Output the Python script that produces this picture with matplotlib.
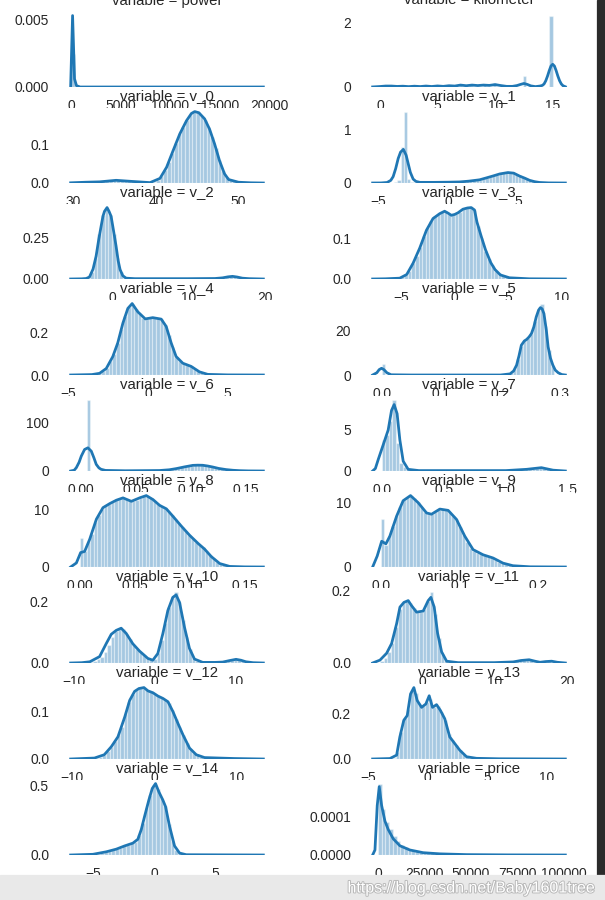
import matplotlib
matplotlib.use("Agg")
import matplotlib.pyplot as plt
import matplotlib.patheffects as pe
from matplotlib.patches import Rectangle

plt.rcParams["font.family"] = ["Liberation Sans", "DejaVu Sans"]

# ---- data ----------------------------------------------------------------
# every panel: kde curve (x, density) and histogram (first edge, bin width, densities)

power_kde_x = [-51, 145, 341, 537, 900, 19363]
power_kde_y = [0.0, 0.0053, 0.0006, 0.0001, 0.0, 0.0]
power_hist_start, power_hist_width = 0, 386
power_hist = [0.00245, 0.00012, 0.00002]

kilometer_kde_x = [-0.63, 0.0, 0.5, 1.0, 1.5, 2.0, 2.5, 3.0, 3.5, 4.0, 4.5, 5.0, 5.5, 6.0, 6.5,
                   7.0, 7.5, 8.0, 8.5, 9.0, 9.5, 10.0, 10.5, 11.0, 11.5, 11.9, 12.2, 12.5, 12.8,
                   13.1, 13.5, 13.9, 14.1, 14.25, 14.4, 14.55, 14.7, 14.85, 15.0, 15.15, 15.3,
                   15.45, 15.6, 15.75, 15.9, 16.1]
kilometer_kde_y = [0.002, 0.015, 0.03, 0.03, 0.018, 0.025, 0.012, 0.025, 0.014, 0.03, 0.016,
                   0.033, 0.02, 0.04, 0.03, 0.06, 0.04, 0.06, 0.045, 0.06, 0.05, 0.075, 0.045,
                   0.02, 0.02, 0.045, 0.08, 0.11, 0.08, 0.035, 0.012, 0.03, 0.05, 0.094, 0.195,
                   0.34, 0.51, 0.655, 0.71, 0.655, 0.51, 0.34, 0.195, 0.094, 0.038, 0.008]
kilometer_hist_start, kilometer_hist_width = 0.5, 0.29
kilometer_hist = [0.04, 0.03, 0, 0, 0, 0.03, 0, 0, 0.03, 0, 0, 0, 0.04, 0, 0, 0.05, 0, 0,
                  0.05, 0, 0, 0, 0.09, 0, 0, 0.09, 0, 0, 0, 0.09, 0, 0, 0.12, 0, 0, 0, 0, 0,
                  0, 0, 0, 0.34, 0, 0, 0, 0, 0, 0, 0, 2.23]

v0_kde_x = [29.7, 31.5, 33.2, 35.2, 37.2, 39.3, 40.5, 41.3, 42.1, 42.9, 43.7, 44.3, 44.7, 45.2,
            45.9, 46.5, 47.1, 47.7, 48.3, 48.8, 50.0, 51.5, 53.0]
v0_kde_y = [0.0005, 0.002, 0.003, 0.007, 0.004, 0.001, 0.012, 0.041, 0.085, 0.128, 0.162, 0.181,
            0.186, 0.183, 0.167, 0.14, 0.102, 0.058, 0.024, 0.009, 0.002, 0.0005, 0.0]
v0_hist_start, v0_hist_width = 30.4, 0.438
v0_hist = [0.001, 0.001, 0.002, 0.002, 0.002, 0.003, 0.003, 0.004, 0.005, 0.006, 0.007, 0.007,
           0.006, 0.005, 0.004, 0.004, 0.003, 0.002, 0.001, 0.001, 0.001, 0.003, 0.008, 0.017,
           0.034, 0.054, 0.078, 0.104, 0.127, 0.146, 0.164, 0.178, 0.185, 0.185, 0.175, 0.165,
           0.146, 0.121, 0.092, 0.059, 0.031, 0.015, 0.007, 0.004, 0.002, 0.001, 0.001, 0.0005,
           0.0003, 0.0002]

v1_kde_x = [-5.4, -4.8, -4.36, -4.1, -3.93, -3.75, -3.57, -3.4, -3.2, -3.0, -2.86, -2.7, -2.5,
            -2.3, -2.02, -1.0, 0.0, 0.83, 1.5, 2.26, 2.8, 3.2, 3.7, 4.29, 4.7, 5.12, 5.5, 5.84,
            6.2, 6.55, 7.2, 8.4]
v1_kde_y = [0.0, 0.001, 0.01, 0.05, 0.12, 0.27, 0.46, 0.58, 0.63, 0.52, 0.37, 0.2, 0.074, 0.03,
            0.012, 0.012, 0.015, 0.02, 0.035, 0.06, 0.1, 0.13, 0.17, 0.196, 0.185, 0.13, 0.09,
            0.05, 0.025, 0.01, 0.002, 0.0]
v1_hist_start, v1_hist_width = -4.34, 0.234
v1_hist = [0.0, 0.0, 0.01, 0.06, 0.68, 1.34, 0.07, 0.02, 0.0, 0.01, 0.01, 0.01, 0.01, 0.015,
           0.015, 0.015, 0.015, 0.02, 0.02, 0.02, 0.02, 0.025, 0.03, 0.035, 0.04, 0.045, 0.05,
           0.055, 0.065, 0.08, 0.095, 0.115, 0.135, 0.15, 0.165, 0.18, 0.19, 0.195, 0.19,
           0.175, 0.15, 0.12, 0.09, 0.06, 0.035, 0.02, 0.01, 0.005, 0.002, 0.001]

v2_kde_x = [-5.44, -4.0, -3.4, -2.97, -2.5, -2.1, -1.75, -1.44, -1.2, -1.0, -0.66, -0.4, -0.13,
            0.2, 0.52, 0.8, 1.05, 1.4, 1.84, 3.0, 6.0, 10.0, 13.5, 14.5, 15.2, 15.8, 16.4,
            17.1, 18.0, 19.85]
v2_kde_y = [0.0, 0.001, 0.003, 0.012, 0.06, 0.138, 0.24, 0.32, 0.38, 0.41, 0.433, 0.41, 0.38,
            0.29, 0.2, 0.11, 0.057, 0.02, 0.005, 0.002, 0.002, 0.002, 0.003, 0.007, 0.013,
            0.016, 0.012, 0.005, 0.002, 0.0]
v2_hist_start, v2_hist_width = -4.8, 0.48
v2_hist = [0.0, 0.0, 0.001, 0.008, 0.04, 0.13, 0.27, 0.39, 0.43, 0.39, 0.27, 0.13, 0.045, 0.01,
           0.003, 0.002, 0.002, 0.002, 0.002, 0.002, 0.002, 0.002, 0.002, 0.002, 0.002, 0.002,
           0.002, 0.002, 0.002, 0.002, 0.002, 0.002, 0.002, 0.002, 0.002, 0.002, 0.002, 0.002,
           0.003, 0.004, 0.007, 0.012, 0.016, 0.015, 0.01, 0.005, 0.002, 0.001, 0.001, 0.001]

v3_kde_x = [-7.7, -6.5, -5.16, -4.5, -3.9, -3.28, -2.65, -2.03, -1.4, -0.94, -0.6, -0.31, 0.0,
            0.31, 0.78, 1.2, 1.56, 1.87, 2.1, 2.5, 2.9, 3.4, 3.8, 4.3, 5.15, 7.0, 10.4]
v3_kde_y = [0.0, 0.0005, 0.002, 0.011, 0.039, 0.076, 0.12, 0.149, 0.161, 0.167, 0.162, 0.157,
            0.159, 0.163, 0.172, 0.175, 0.176, 0.17, 0.14, 0.105, 0.072, 0.04, 0.023, 0.01,
            0.003, 0.0005, 0.0]
v3_hist_start, v3_hist_width = -7.1, 0.338
v3_hist = [0.0, 0.0, 0.0, 0.001, 0.001, 0.002, 0.004, 0.009, 0.02, 0.04, 0.057, 0.08, 0.105,
           0.125, 0.142, 0.155, 0.16, 0.165, 0.167, 0.16, 0.157, 0.16, 0.166, 0.172, 0.175,
           0.176, 0.17, 0.13, 0.1, 0.07, 0.05, 0.034, 0.02, 0.014, 0.009, 0.005, 0.003, 0.002,
           0.001, 0.001]

v4_kde_x = [-4.83, -3.5, -3.02, -2.6, -2.19, -1.88, -1.56, -1.25, -0.98, -0.63, -0.16, 0.31,
            0.84, 1.15, 1.46, 1.77, 2.19, 2.71, 3.23, 3.75, 5.0, 7.23]
v4_kde_y = [0.0, 0.002, 0.008, 0.031, 0.088, 0.153, 0.247, 0.317, 0.34, 0.301, 0.267, 0.273,
            0.266, 0.231, 0.153, 0.088, 0.056, 0.041, 0.015, 0.003, 0.0005, 0.0]
v4_hist_start, v4_hist_width = -4.5, 0.228
v4_hist = [0.0, 0.0, 0.0, 0.001, 0.002, 0.004, 0.008, 0.018, 0.034, 0.065, 0.1, 0.153, 0.22,
           0.28, 0.325, 0.34, 0.315, 0.29, 0.272, 0.266, 0.27, 0.273, 0.27, 0.265, 0.24, 0.19,
           0.135, 0.088, 0.068, 0.055, 0.048, 0.041, 0.03, 0.018, 0.01, 0.005, 0.003, 0.002,
           0.001, 0.001]

v5_kde_x = [-0.015, -0.008, -0.004, 0.0, 0.004, 0.009, 0.016, 0.05, 0.2, 0.216, 0.222, 0.227,
            0.231, 0.235, 0.24, 0.244, 0.248, 0.252, 0.256, 0.26, 0.264, 0.267, 0.27, 0.273,
            0.277, 0.28, 0.284, 0.288, 0.292, 0.297, 0.303, 0.309]
v5_kde_y = [0.0, 1.0, 2.4, 3.0, 2.4, 1.0, 0.1, 0.0, 0.0, 0.5, 1.8, 4.4, 8.5, 13.3, 15.2, 15.9,
            17.0, 18.5, 21.5, 25.9, 29.0, 30.1, 29.5, 27.4, 20.0, 12.6, 7.5, 4.4, 2.2, 1.0, 0.2,
            0.0]
v5_hist_start, v5_hist_width = 0.0, 0.0058
v5_hist = [4.9, 0, 0, 0, 0, 0, 0, 0, 0, 0, 0, 0, 0, 0, 0, 0, 0, 0, 0, 0, 0, 0, 0, 0, 0, 0, 0,
           0, 0, 0, 0, 0, 0, 0, 0, 0, 0, 0.8, 2.5, 7.0, 13.0, 15.5, 16.5, 18.5, 24.0, 29.0,
           31.9, 22.0, 11.0, 4.0]

v6_kde_x = [-0.0097, -0.0065, -0.0045, -0.002, 0.0, 0.003, 0.006, 0.0091, 0.0115, 0.0136,
            0.016, 0.018, 0.022, 0.04, 0.06, 0.0712, 0.08, 0.0864, 0.094, 0.1015, 0.106,
            0.1105, 0.115, 0.1196, 0.125, 0.1318, 0.138, 0.144, 0.152, 0.1657]
v6_kde_y = [0.0, 1.5, 6.9, 18.0, 30.6, 44.3, 47.7, 40.8, 27.0, 13.7, 6.5, 3.5, 1.2, 0.5, 0.8,
            1.0, 2.5, 4.9, 8.5, 11.6, 12.0, 11.8, 10.3, 8.2, 5.3, 2.9, 1.5, 0.7, 0.2, 0.0]
v6_hist_start, v6_hist_width = 0.002, 0.00304
v6_hist = [0.5, 147.0, 0.5, 0.2, 0.1, 0.1, 0.1, 0.1, 0.1, 0.1, 0.1, 0.15, 0.15, 0.15, 0.2, 0.2,
           0.2, 0.25, 0.3, 0.3, 0.4, 0.6, 0.9, 1.3, 1.9, 2.6, 3.5, 4.6, 6.0, 7.5, 9.0, 10.4,
           11.3, 11.8, 11.9, 11.8, 11.2, 10.0, 8.5, 7.0, 5.4, 4.0, 3.0, 2.2, 1.5, 1.0, 0.7,
           0.4, 0.2, 0.1]

v7_kde_x = [-0.072, -0.05, -0.027, 0.013, 0.053, 0.08, 0.101, 0.125, 0.147, 0.174, 0.214, 0.3,
            1.0, 1.166, 1.286, 1.38, 1.479]
v7_kde_y = [0.0, 0.3, 1.38, 3.15, 4.93, 7.29, 8.0, 6.9, 3.74, 1.18, 0.2, 0.05, 0.05, 0.2, 0.4,
            0.1, 0.0]
v7_hist_start, v7_hist_width = 0.0, 0.0281
v7_hist = [3.7, 4.3, 6.0, 8.6, 3.4, 1.0, 0.5, 0.2, 0.05, 0.05, 0.05, 0.05, 0.05, 0.05, 0.05,
           0.05, 0.05, 0.05, 0.05, 0.05, 0.05, 0.05, 0.05, 0.05, 0.05, 0.05, 0.05, 0.05, 0.05,
           0.05, 0.05, 0.05, 0.05, 0.05, 0.05, 0.05, 0.05, 0.08, 0.1, 0.12, 0.15, 0.2, 0.25,
           0.3, 0.4, 0.45, 0.35, 0.25, 0.15, 0.08]

v8_kde_x = [-0.0082, -0.003, 0.0009, 0.0045, 0.0091, 0.0152, 0.0212, 0.0273, 0.0334, 0.0394,
            0.047, 0.0545, 0.0606, 0.0667, 0.0727, 0.0788, 0.0848, 0.0924, 0.1, 0.1076, 0.1136,
            0.1197, 0.1273, 0.1364, 0.15, 0.167]
v8_kde_y = [0.0, 0.7, 2.5, 2.7, 4.8, 8.3, 10.3, 11.0, 11.6, 12.0, 11.4, 12.0, 12.4, 11.7, 10.7,
            10.1, 8.8, 7.1, 5.5, 4.1, 3.1, 1.8, 0.6, 0.1, 0.02, 0.0]
v8_hist_start, v8_hist_width = 0.0, 0.00316
v8_hist = [5.0, 2.7, 4.3, 5.8, 7.8, 9.0, 10.1, 10.7, 11.0, 11.3, 11.6, 11.8, 12.0, 11.8, 11.5,
           11.4, 11.7, 12.0, 12.3, 12.4, 12.0, 11.5, 11.0, 10.6, 10.3, 9.8, 9.0, 8.3, 7.6,
           6.9, 6.2, 5.6, 5.0, 4.4, 3.9, 3.4, 2.8, 2.1, 1.5, 0.9, 0.5, 0.3, 0.15, 0.1, 0.05,
           0.05, 0.03, 0.02, 0.01, 0.01]

v9_kde_x = [-0.0105, -0.0047, 0.001, 0.0064, 0.0114, 0.02, 0.0283, 0.0377, 0.0474, 0.0581,
            0.0644, 0.075, 0.0856, 0.0962, 0.1067, 0.1173, 0.13, 0.1427, 0.1554, 0.168, 0.19,
            0.2347]
v9_kde_y = [0.0, 1.7, 4.0, 3.6, 4.8, 7.9, 10.3, 11.1, 10.0, 8.4, 8.2, 9.0, 8.8, 7.4, 4.8, 2.7,
            1.9, 1.4, 0.6, 0.2, 0.03, 0.0]
v9_hist_start, v9_hist_width = 0.0, 0.00448
v9_hist = [7.4, 3.4, 4.8, 6.3, 7.9, 9.3, 10.4, 10.9, 11.1, 10.8, 10.1, 9.3, 8.6, 8.3, 8.2, 8.5,
           8.9, 9.0, 8.9, 8.6, 8.0, 7.4, 6.2, 5.0, 3.9, 3.0, 2.5, 2.2, 1.95, 1.8, 1.6, 1.4,
           1.1, 0.8, 0.6, 0.45, 0.3, 0.2, 0.15, 0.1, 0.08, 0.05, 0.03, 0.02, 0.02, 0.01, 0.01,
           0.01]

v10_kde_x = [-10.37, -9.0, -8.0, -6.79, -5.96, -5.35, -4.73, -4.12, -3.5, -2.68, -1.85, -0.82,
             -0.21, 0.41, 1.03, 1.65, 2.26, 2.67, 3.09, 3.7, 4.32, 4.94, 5.96, 7.5, 8.43, 9.3,
             10.08, 10.7, 11.3, 12.2, 13.46]
v10_kde_y = [0.0, 0.001, 0.004, 0.021, 0.064, 0.094, 0.107, 0.114, 0.097, 0.063, 0.039, 0.015,
             0.009, 0.031, 0.096, 0.172, 0.215, 0.223, 0.199, 0.118, 0.048, 0.013, 0.002,
             0.002, 0.003, 0.008, 0.012, 0.009, 0.004, 0.001, 0.0]
v10_hist_start, v10_hist_width = -9.3, 0.434
v10_hist = [0.0, 0.001, 0.002, 0.004, 0.007, 0.012, 0.02, 0.035, 0.06, 0.085, 0.104, 0.112,
            0.112, 0.096, 0.078, 0.06, 0.046, 0.035, 0.025, 0.015, 0.01, 0.012, 0.032, 0.075,
            0.13, 0.185, 0.215, 0.234, 0.2, 0.14, 0.085, 0.045, 0.018, 0.007, 0.003, 0.002,
            0.002, 0.002, 0.002, 0.002, 0.003, 0.005, 0.008, 0.011, 0.012, 0.011, 0.007,
            0.004, 0.002, 0.001]

v11_kde_x = [-6.8, -5.79, -4.87, -4.18, -3.49, -3.03, -2.48, -1.89, -1.43, -0.74, 0.18, 0.87,
             1.24, 1.7, 2.17, 2.72, 3.41, 5.0, 10.0, 12.6, 13.7, 14.8, 15.6, 16.3, 17.1, 17.9,
             18.7, 19.8]
v11_kde_y = [0.0, 0.008, 0.027, 0.054, 0.109, 0.155, 0.168, 0.173, 0.159, 0.141, 0.144, 0.173,
             0.182, 0.155, 0.082, 0.031, 0.005, 0.001, 0.001, 0.003, 0.007, 0.009, 0.005,
             0.002, 0.004, 0.005, 0.002, 0.0]
v11_hist_start, v11_hist_width = -5.75, 0.49
v11_hist = [0.005, 0.015, 0.03, 0.055, 0.1, 0.15, 0.166, 0.172, 0.166, 0.152, 0.142, 0.142,
            0.15, 0.172, 0.198, 0.135, 0.07, 0.025, 0.006, 0.002, 0.001, 0.001, 0.001, 0.001,
            0.001, 0.001, 0.001, 0.001, 0.001, 0.001, 0.001, 0.001, 0.001, 0.001, 0.001,
            0.002, 0.003, 0.004, 0.006, 0.008, 0.009, 0.009, 0.007, 0.004, 0.002, 0.002,
            0.003, 0.005, 0.004, 0.002]

v12_kde_x = [-10.2, -7.3, -6.1, -5.24, -4.43, -3.6, -3.0, -2.4, -1.87, -1.26, -0.77, -0.16,
             0.45, 1.06, 1.67, 2.28, 2.89, 3.5, 4.3, 5.12, 6.13, 9.79, 13.3]
v12_kde_y = [0.0, 0.002, 0.009, 0.026, 0.047, 0.089, 0.124, 0.143, 0.149, 0.151, 0.144, 0.14,
             0.133, 0.128, 0.121, 0.1, 0.075, 0.051, 0.023, 0.009, 0.003, 0.001, 0.0]
v12_hist_start, v12_hist_width = -9.4, 0.438
v12_hist = [0.0, 0.0, 0.001, 0.001, 0.002, 0.003, 0.005, 0.009, 0.017, 0.026, 0.037, 0.05,
            0.068, 0.095, 0.121, 0.137, 0.146, 0.15, 0.151, 0.146, 0.142, 0.138, 0.133, 0.13,
            0.125, 0.118, 0.103, 0.085, 0.068, 0.05, 0.034, 0.021, 0.013, 0.008, 0.005, 0.003,
            0.002, 0.002, 0.001, 0.001, 0.001, 0.001, 0.001, 0.001]

v13_kde_x = [-4.62, -3.17, -2.6, -2.33, -2.0, -1.71, -1.43, -1.15, -0.87, -0.5, -0.14, 0.14,
             0.42, 0.76, 1.09, 1.45, 1.87, 2.29, 2.71, 3.28, 4.12, 6.0, 11.6]
v13_kde_y = [0.0, 0.002, 0.017, 0.097, 0.17, 0.191, 0.286, 0.314, 0.257, 0.227, 0.242, 0.278,
             0.227, 0.239, 0.213, 0.177, 0.097, 0.068, 0.039, 0.01, 0.003, 0.001, 0.0]
v13_hist_start, v13_hist_width = -4.24, 0.309
v13_hist = [0.0, 0.0, 0.001, 0.002, 0.006, 0.03, 0.12, 0.18, 0.22, 0.3, 0.29, 0.24, 0.232,
            0.25, 0.265, 0.23, 0.235, 0.205, 0.17, 0.11, 0.082, 0.06, 0.039, 0.022, 0.01,
            0.005, 0.003, 0.002, 0.002, 0.001, 0.001, 0.001]

v14_kde_x = [-6.89, -5.06, -3.96, -3.14, -2.46, -1.78, -1.37, -1.09, -0.82, -0.47, -0.19, 0.08,
             0.35, 0.68, 0.9, 1.23, 1.64, 2.05, 2.6, 8.93]
v14_kde_y = [0.0, 0.005, 0.023, 0.042, 0.065, 0.085, 0.113, 0.183, 0.277, 0.394, 0.477, 0.512,
             0.453, 0.394, 0.347, 0.206, 0.065, 0.014, 0.002, 0.0]
v14_hist_start, v14_hist_width = -6.6, 0.305
v14_hist = [0.0, 0.001, 0.002, 0.003, 0.004, 0.006, 0.009, 0.014, 0.021, 0.028, 0.035, 0.044,
            0.052, 0.062, 0.072, 0.083, 0.095, 0.14, 0.23, 0.335, 0.43, 0.505, 0.47, 0.41,
            0.35, 0.22, 0.1, 0.035, 0.011, 0.004, 0.002, 0.001, 0.001]

price_kde_x = [-2850, -1600, -380, 700, 2000, 3760, 5540, 8230, 11800, 17200, 24350, 33300,
               47700, 70000, 100900]
price_kde_y = [0.0, 0.000013, 0.000128, 0.000177, 0.000128, 0.000088, 0.000066, 0.000042,
               0.000024, 0.000013, 0.000006, 0.000003, 0.000001, 0.0000003, 0.0]
price_hist_start, price_hist_width = 11, 2000
price_hist = [0.000185, 0.00012, 0.000085, 0.000068, 0.00005, 0.000036, 0.000027, 0.00002,
              0.000015, 0.000012, 0.0000095, 0.0000075, 0.000006, 0.000005, 0.0000042,
              0.0000036, 0.000003, 0.0000026, 0.0000022, 0.000002, 0.0000017, 0.0000015,
              0.0000013, 0.0000012, 0.000001, 0.0000009, 0.0000008, 0.0000007, 0.0000006,
              0.0000006, 0.0000005, 0.0000005, 0.0000004, 0.0000004, 0.0000003, 0.0000003,
              0.0000003, 0.0000002, 0.0000002, 0.0000002, 0.0000002, 0.0000002, 0.0000002,
              0.0000001, 0.0000001, 0.0000001, 0.0000001, 0.0000001, 0.0000001, 0.0000002]

panels = [
    ("power", power_kde_x, power_kde_y, power_hist_start, power_hist_width, power_hist),
    ("kilometer", kilometer_kde_x, kilometer_kde_y, kilometer_hist_start, kilometer_hist_width, kilometer_hist),
    ("v_0", v0_kde_x, v0_kde_y, v0_hist_start, v0_hist_width, v0_hist),
    ("v_1", v1_kde_x, v1_kde_y, v1_hist_start, v1_hist_width, v1_hist),
    ("v_2", v2_kde_x, v2_kde_y, v2_hist_start, v2_hist_width, v2_hist),
    ("v_3", v3_kde_x, v3_kde_y, v3_hist_start, v3_hist_width, v3_hist),
    ("v_4", v4_kde_x, v4_kde_y, v4_hist_start, v4_hist_width, v4_hist),
    ("v_5", v5_kde_x, v5_kde_y, v5_hist_start, v5_hist_width, v5_hist),
    ("v_6", v6_kde_x, v6_kde_y, v6_hist_start, v6_hist_width, v6_hist),
    ("v_7", v7_kde_x, v7_kde_y, v7_hist_start, v7_hist_width, v7_hist),
    ("v_8", v8_kde_x, v8_kde_y, v8_hist_start, v8_hist_width, v8_hist),
    ("v_9", v9_kde_x, v9_kde_y, v9_hist_start, v9_hist_width, v9_hist),
    ("v_10", v10_kde_x, v10_kde_y, v10_hist_start, v10_hist_width, v10_hist),
    ("v_11", v11_kde_x, v11_kde_y, v11_hist_start, v11_hist_width, v11_hist),
    ("v_12", v12_kde_x, v12_kde_y, v12_hist_start, v12_hist_width, v12_hist),
    ("v_13", v13_kde_x, v13_kde_y, v13_hist_start, v13_hist_width, v13_hist),
    ("v_14", v14_kde_x, v14_kde_y, v14_hist_start, v14_hist_width, v14_hist),
    ("price", price_kde_x, price_kde_y, price_hist_start, price_hist_width, price_hist),
]

# ---- layout (pixels) ------------------------------------------------------
W, H, DPI = 605, 900, 90
COL_LEFT = [61, 363]
AX_W, AX_H = 212, 75
ROW_TOP, ROW_STEP = 12, 96
BLUE = "#1f77b4"
TEXT = "#262626"

fig = plt.figure(figsize=(W / DPI, H / DPI), dpi=DPI)

for i, (name, kx, ky, h0, hw, hh) in enumerate(panels):
    row, col = divmod(i, 2)
    top = ROW_TOP + row * ROW_STEP
    ax = fig.add_axes([COL_LEFT[col] / W, 1 - (top + AX_H) / H, AX_W / W, AX_H / H])
    edges = [h0 + hw * k for k in range(len(hh))]
    ax.bar(edges, hh, width=hw, align="edge", color=BLUE, alpha=0.4,
           edgecolor="white", linewidth=1)
    ax.plot(kx, ky, color=BLUE, lw=2.2)
    ax.set_title(f"variable = {name}", fontsize=12, color=TEXT)
    for s in ax.spines.values():
        s.set_visible(False)
    ax.tick_params(length=0, pad=9.5, labelsize=11, labelcolor=TEXT)

# screenshot frame: dark scrollbar strip on the right, grey bar with watermark at the bottom
fig.add_artist(Rectangle((597 / W, 25 / H), 8 / W, 875 / H, transform=fig.transFigure,
                         color="#2b2b2b", zorder=5))
fig.add_artist(Rectangle((0, 0), 1, 25 / H, transform=fig.transFigure,
                         color="#e9e9e9", zorder=5))
fig.text(595 / W, 12 / H, "https://blog.csdn.net/Baby1601tree", ha="right", va="center",
         fontsize=12.8, color="white", zorder=6,
         path_effects=[pe.withStroke(linewidth=1.5, foreground="#b8b8b8")])

fig.savefig("out.png", dpi=DPI)
